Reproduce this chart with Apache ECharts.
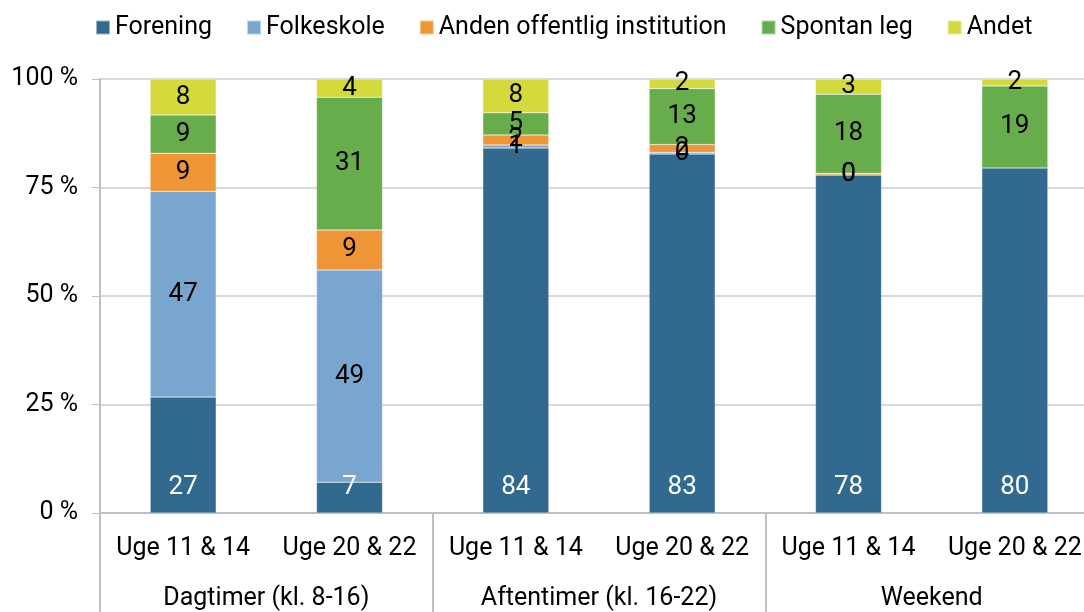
<!DOCTYPE html>
<html>
<head>
<meta charset="utf-8">
<script src="https://cdn.jsdelivr.net/npm/echarts@6/dist/echarts.min.js"></script>
<style>
  html, body { margin: 0; padding: 0; background: #fff; }
  #chart { width: 1084px; height: 612px; }
</style>
</head>
<body>
<div id="chart"></div>
<script>
// kategorier
const periods = ['Uge 11 & 14', 'Uge 20 & 22', 'Uge 11 & 14', 'Uge 20 & 22', 'Uge 11 & 14', 'Uge 20 & 22']
const groups = ['Dagtimer (kl. 8-16)', 'Aftentimer (kl. 16-22)', 'Weekend']
const yTicks = [0, 25, 50, 75, 100]

// andele i procent
const forening = [26.7, 7.1, 84.1, 82.7, 77.9, 79.5]
const folkeskole = [47.4, 48.9, 0.7, 0.4, 0, null]
const anden = [8.8, 9.2, 2.3, 1.8, 0.4, null]
const spontan = [8.8, 30.6, 5.1, 12.9, 18.2, 18.9]
const andet = [8.3, 4.2, 7.8, 2.2, 3.4, 1.6]

const names = ['Forening', 'Folkeskole', 'Anden offentlig institution', 'Spontan leg', 'Andet']
const color = ['#31698f', '#79a6cf', '#f09536', '#67ad4c', '#d4da3c']
const font = "Roboto, 'Noto Sans', sans-serif"
const fs = 25

const chart = echarts.init(document.getElementById('chart'))

function makeSeries(name, data, idx) {
  return {
    name: name,
    type: 'bar',
    stack: 'total',
    barWidth: 66,
    data: data,
    itemStyle: {
      color: color[idx],
      borderColor: 'rgba(255,255,255,0.5)',
      borderWidth: 0.5
    },
    label: {
      show: true,
      position: idx == 0 ? 'insideBottom' : 'inside',
      distance: 13,
      color: idx == 0 ? '#fff' : '#000',
      fontFamily: font,
      fontSize: 26,
      formatter: p => p.value == null ? '' : Math.round(p.value)
    },
    emphasis: { disabled: true }
  }
}

const option = {
  animation: false,
  color: color,
  textStyle: { fontFamily: font },
  legend: {
    top: 10,
    left: 90,
    itemWidth: 14,
    itemHeight: 14,
    itemGap: 34,
    icon: 'rect',
    textStyle: { fontFamily: font, fontSize: fs, color: '#000' },
    data: names
  },
  grid: {
    left: 100,
    width: 998,
    top: 79,
    bottom: 99,
    containLabel: false,
    outerBoundsMode: 'none'
  },
  xAxis: [
    {
      type: 'category',
      data: periods,
      position: 'bottom',
      axisLine: { show: true, lineStyle: { color: '#bfbfbf', width: 2 } },
      axisTick: { show: false },
      axisLabel: { color: '#000', fontFamily: font, fontSize: fs, margin: 23, interval: 0 }
    },
    {
      type: 'category',
      data: groups,
      position: 'bottom',
      axisLine: { show: false },
      axisTick: { show: true, length: 99, interval: 0, lineStyle: { color: '#bfbfbf', width: 2 } },
      axisLabel: { color: '#000', fontFamily: font, fontSize: fs, margin: 73, interval: 0 }
    }
  ],
  yAxis: {
    type: 'value',
    min: 0,
    max: 100,
    interval: 25,
    axisLine: { show: true, lineStyle: { color: '#bfbfbf', width: 2 } },
    axisTick: { show: true, inside: false, length: 8, lineStyle: { color: '#bfbfbf' } },
    splitLine: { show: true, lineStyle: { color: '#d9d9d9', width: 2 } },
    axisLabel: {
      color: '#000',
      fontFamily: font,
      fontSize: fs,
      margin: 22,
      formatter: v => yTicks.includes(v) ? v + ' %' : ''
    }
  },
  series: [
    makeSeries(names[0], forening, 0),
    makeSeries(names[1], folkeskole, 1),
    makeSeries(names[2], anden, 2),
    makeSeries(names[3], spontan, 3),
    makeSeries(names[4], andet, 4)
  ]
}
chart.setOption(option)
</script>
</body>
</html>
